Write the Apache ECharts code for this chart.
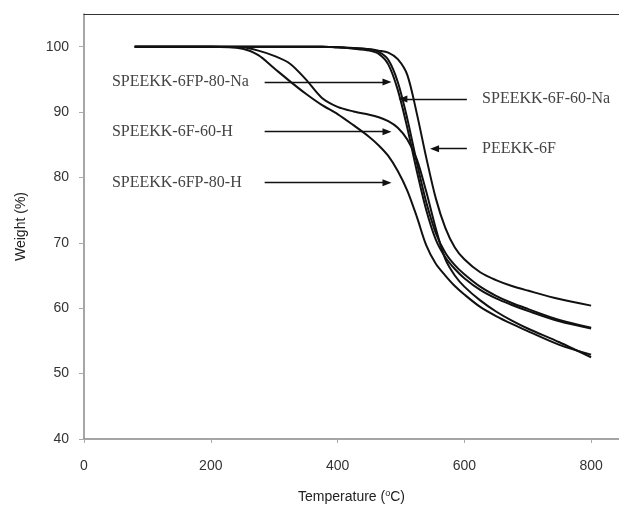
<!DOCTYPE html>
<html>
<head>
<meta charset="utf-8">
<script src="https://cdn.jsdelivr.net/npm/echarts@6/dist/echarts.min.js"></script>
<style>
  html, body { margin: 0; padding: 0; background: #fff; }
  #chart { width: 619px; height: 510px; }
</style>
</head>
<body>
<div id="chart"></div>
<script>
// temperature (°C) sampled for all curves
const temps = [80, 150, 200, 250, 275, 300, 325, 350, 375, 400, 425, 450, 465, 480, 495, 510, 525, 540, 555, 570, 585, 600, 625, 650, 675, 700, 750, 800];

// weight (%)
const peekk6F = [100, 100, 100, 100, 100, 100, 100, 100, 100, 99.9, 99.8, 99.6, 99.4, 99.1, 98.1, 95.7, 89.8, 83.0, 76.8, 72.3, 69.3, 67.5, 65.5, 64.3, 63.4, 62.7, 61.4, 60.4];
const speekk6F60Na = [100, 100, 100, 100, 100, 100, 100, 100, 100, 99.9, 99.8, 99.6, 99.2, 98.0, 94.6, 89.0, 82.3, 76.2, 71.5, 68.5, 66.6, 65.2, 63.3, 61.9, 60.8, 59.9, 58.2, 57.0];
const speekk6FP80Na = [100, 100, 100, 100, 100, 100, 100, 100, 100, 99.9, 99.7, 99.4, 98.9, 97.3, 93.4, 87.6, 81.0, 75.0, 70.5, 67.8, 66.0, 64.6, 62.8, 61.5, 60.5, 59.6, 58.0, 56.9];
const speekk6F60H = [100, 100, 100, 99.9, 99.4, 98.6, 97.4, 95.0, 92.2, 90.8, 90.1, 89.6, 89.2, 88.6, 87.6, 85.8, 82.8, 77.8, 72.2, 67.5, 65.0, 63.3, 61.2, 59.5, 58.1, 56.9, 54.8, 52.5];
const speekk6FP80H = [100, 100, 100, 99.7, 98.7, 96.7, 94.7, 92.8, 91.1, 89.7, 88.0, 86.2, 84.9, 83.3, 81.0, 78.0, 74.0, 69.6, 66.8, 65.0, 63.4, 62.1, 60.2, 58.8, 57.6, 56.5, 54.4, 52.9];

const xTicks = [0, 200, 400, 600, 800];
const yTicks = [40, 50, 60, 70, 80, 90, 100];

// annotations: [text, text x, arrow tail x, arrow tip x, y]
const arrows = [
  ['SPEEKK-6FP-80-Na', 44, 285, 478, 94.6],
  ['SPEEKK-6F-60-H', 44, 285, 478, 87.0],
  ['SPEEKK-6FP-80-H', 44, 285, 478, 79.2],
  ['SPEEKK-6F-60-Na', 628, 604, 503, 92.0],
  ['PEEKK-6F', 628, 604, 553, 84.4]
];

const names = ['PEEKK-6F', 'SPEEKK-6F-60-Na', 'SPEEKK-6FP-80-Na', 'SPEEKK-6F-60-H', 'SPEEKK-6FP-80-H'];
const values = [peekk6F, speekk6F60Na, speekk6FP80Na, speekk6F60H, speekk6FP80H];

function pairs(ys) {
  return temps.map((t, i) => [t, ys[i]]);
}

const chart = echarts.init(document.getElementById('chart'));

const series = values.map((ys, i) => ({
  name: names[i],
  type: 'line',
  data: pairs(ys),
  smooth: 0.3,
  showSymbol: false,
  silent: true,
  lineStyle: { color: '#111', width: 2 }
}));

series[0].markLine = {
  silent: true,
  symbol: ['none', 'triangle'],
  symbolSize: [7, 9],
  lineStyle: { color: '#111', width: 1.3, type: 'solid' },
  label: { show: false },
  data: arrows.map(a => [
    { coord: [a[2], a[4]] },
    { coord: [a[3], a[4]] }
  ])
};

series[0].markPoint = {
  silent: true,
  symbol: 'circle',
  symbolSize: 0,
  label: {
    show: true,
    position: 'inside',
    align: 'left',
    verticalAlign: 'middle',
    formatter: '{b}',
    fontFamily: 'Liberation Serif',
    fontSize: 16,
    color: '#444'
  },
  data: arrows.map(a => ({ name: a[0], coord: [a[1], a[4]] }))
};

const axisFont = { fontFamily: 'Liberation Sans', fontSize: 14, color: '#333' };

const option = {
  animation: false,
  backgroundColor: '#fff',
  grid: {
    left: 84,
    right: 0,
    top: 14,
    bottom: 71,
    show: false
  },
  xAxis: [{
    type: 'value',
    min: 0,
    max: 844,
    interval: 200,
    name: 'Temperature ({sup|o}C)',
    nameLocation: 'middle',
    nameGap: 50,
    nameTextStyle: {
      fontFamily: 'Liberation Sans',
      fontSize: 14,
      color: '#222',
      rich: { sup: { fontSize: 9, verticalAlign: 'top', padding: [0, 0, 8, 0], color: '#222' } }
    },
    axisLine: { lineStyle: { color: '#888', width: 1.5 } },
    axisTick: { show: true, length: 4, customValues: xTicks, lineStyle: { color: '#aaa' } },
    axisLabel: Object.assign({ margin: 20, customValues: xTicks }, axisFont),
    splitLine: { show: false }
  }, {
    type: 'value',
    position: 'top',
    min: 0,
    max: 844,
    axisLine: { show: true, lineStyle: { color: '#333', width: 1.2 } },
    axisTick: { show: false },
    axisLabel: { show: false },
    splitLine: { show: false }
  }],
  yAxis: {
    type: 'value',
    min: 40,
    max: 105,
    interval: 10,
    name: 'Weight (%)',
    nameLocation: 'middle',
    nameGap: 56,
    nameTextStyle: { fontFamily: 'Liberation Sans', fontSize: 14, color: '#222' },
    axisLine: { show: true, lineStyle: { color: '#888', width: 1.5 } },
    axisTick: { show: true, length: 5, customValues: yTicks, lineStyle: { color: '#aaa' } },
    axisLabel: Object.assign({ margin: 15, customValues: yTicks }, axisFont),
    splitLine: { show: false }
  },
  series: series
};

chart.setOption(option);
</script>
</body>
</html>
